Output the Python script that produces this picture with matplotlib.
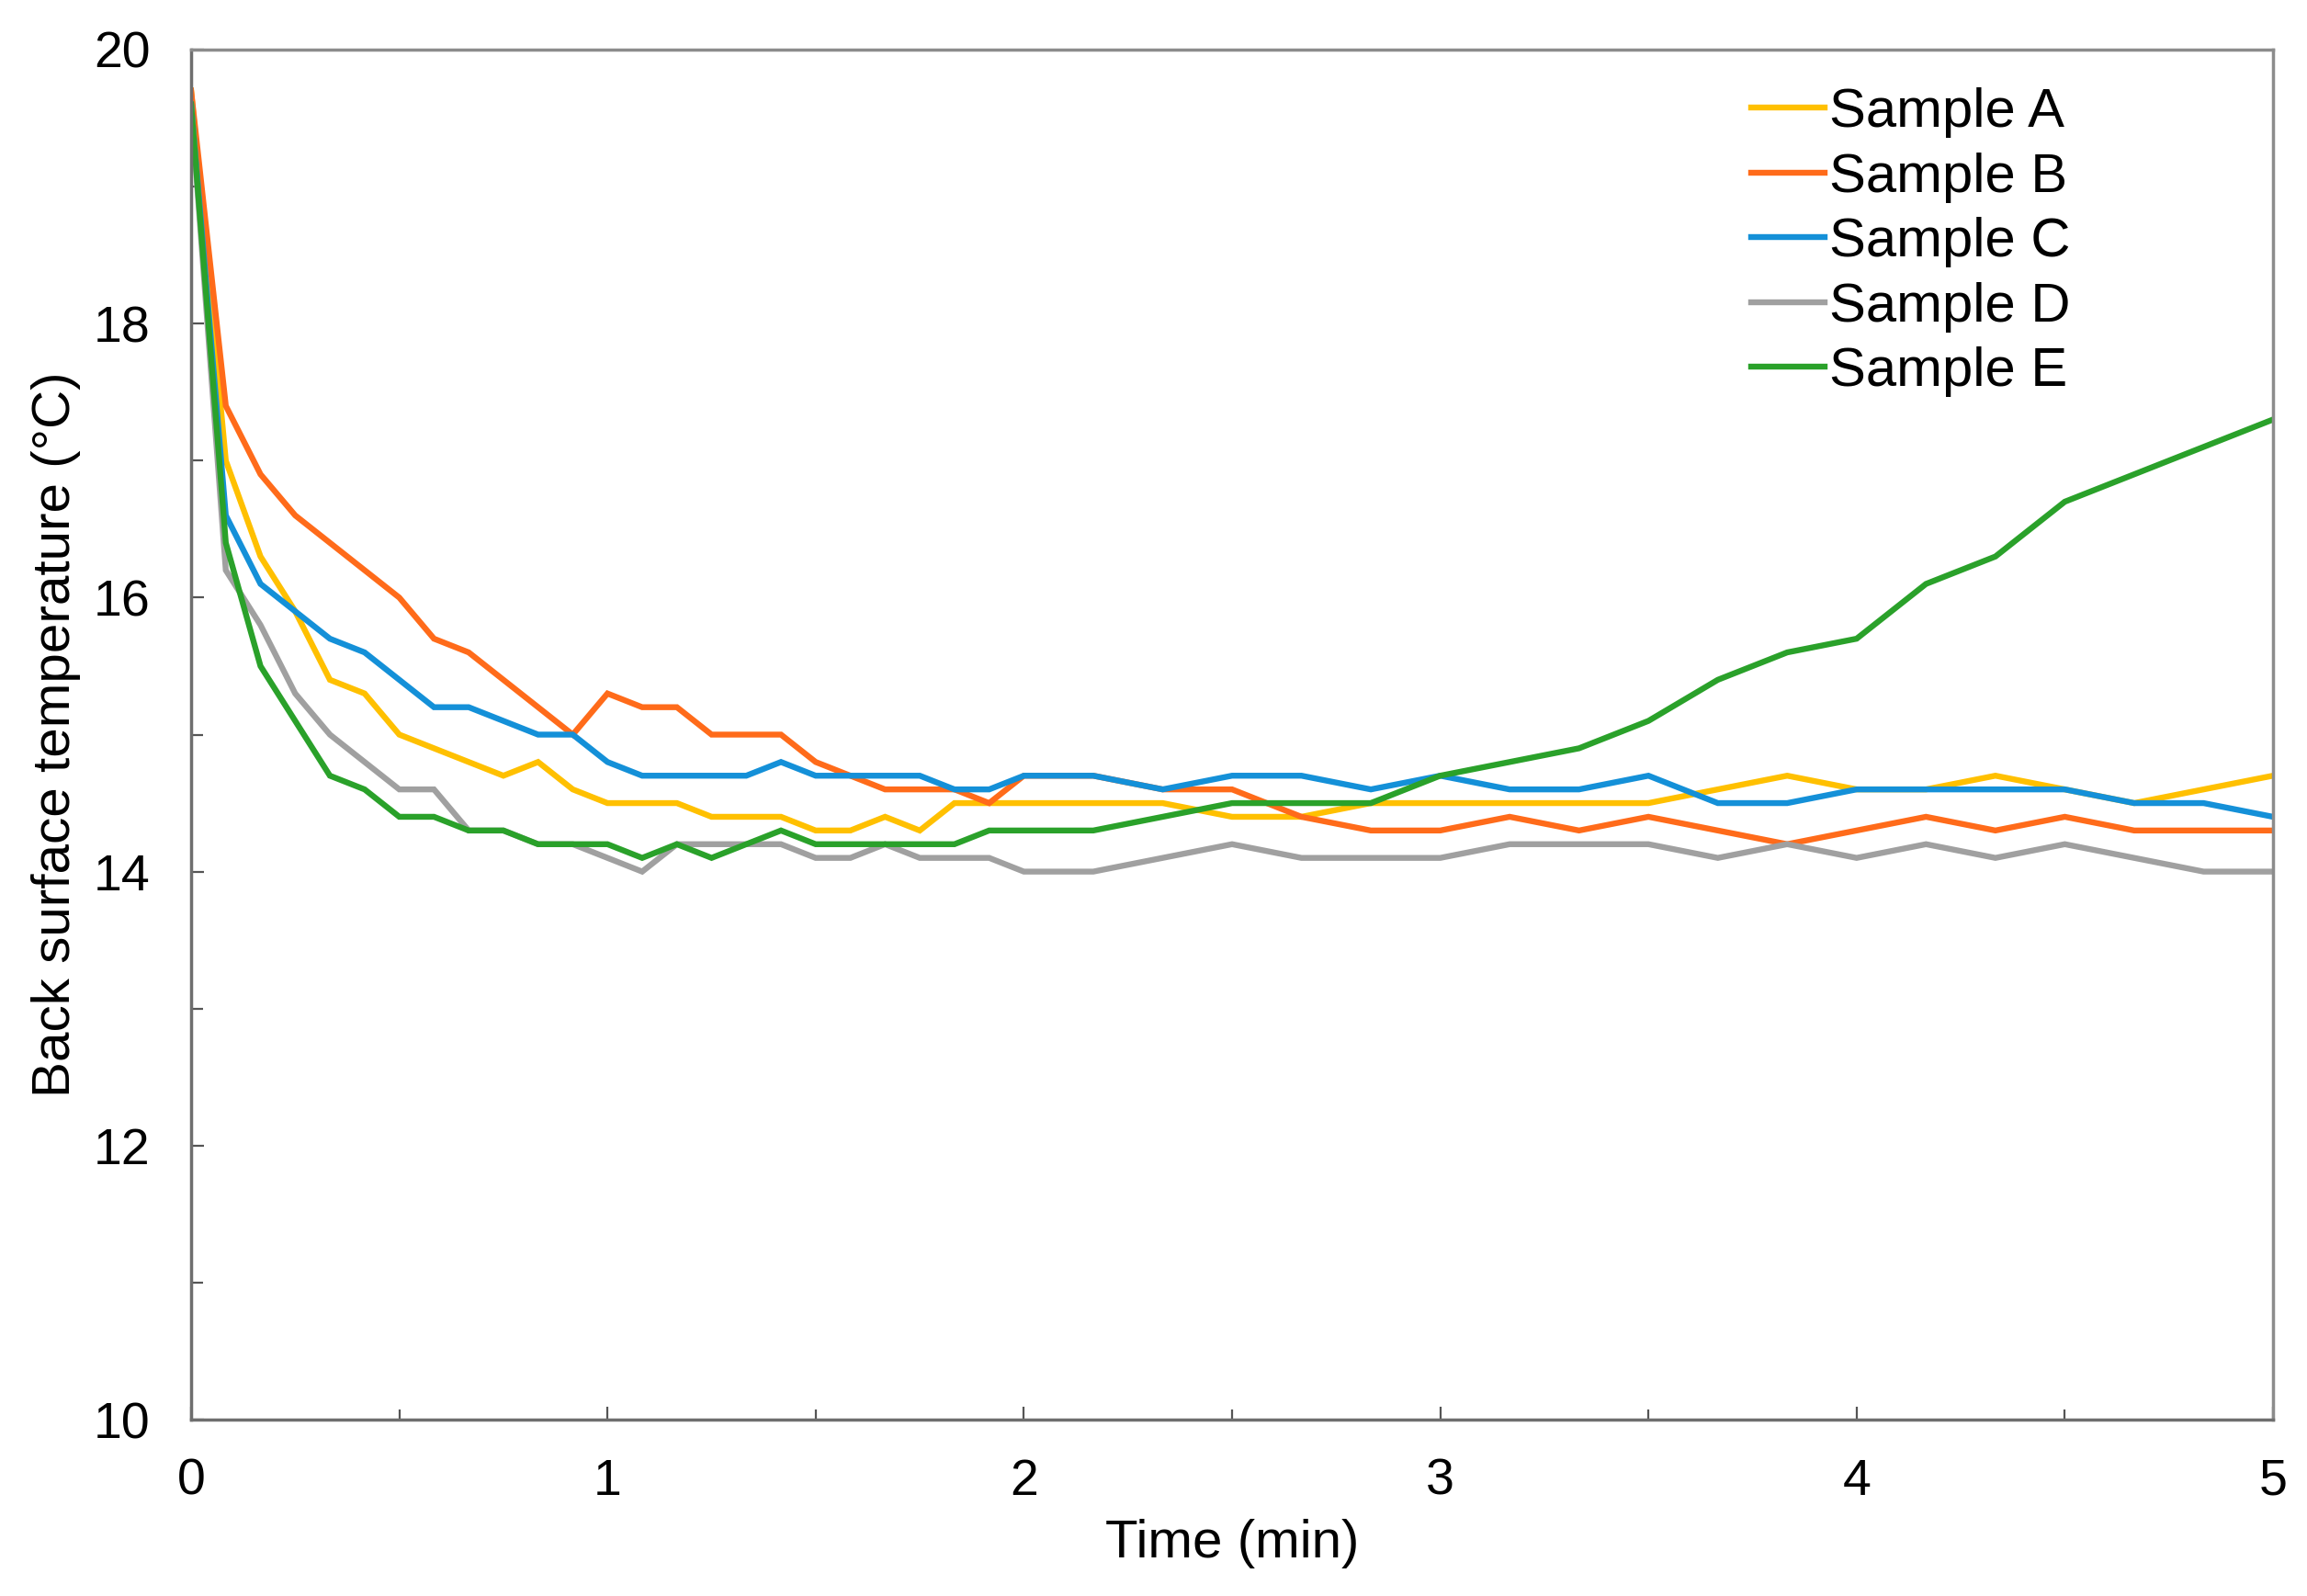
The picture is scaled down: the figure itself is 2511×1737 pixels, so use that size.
import matplotlib
matplotlib.use("Agg")
import matplotlib.pyplot as plt
import numpy as np

plt.rcParams['font.family'] = ['Liberation Sans', 'DejaVu Sans']

# time in seconds
time_s = [0, 5, 10, 15, 20, 25, 30, 35, 40, 45, 50, 55, 60, 65, 70, 75, 80, 85,
          90, 95, 100, 105, 110, 115, 120,
          130, 140, 150, 160, 170, 180, 190, 200, 210, 220, 230, 240,
          250, 260, 270, 280, 290, 300]

sample_a = [19.7, 17.0, 16.3, 15.9, 15.4, 15.3, 15.0, 14.9, 14.8, 14.7, 14.8, 14.6,
            14.5, 14.5, 14.5, 14.4, 14.4, 14.4, 14.3, 14.3, 14.4, 14.3, 14.5, 14.5, 14.5,
            14.5, 14.5, 14.4, 14.4, 14.5, 14.5, 14.5, 14.5, 14.5, 14.6, 14.7, 14.6,
            14.6, 14.7, 14.6, 14.5, 14.6, 14.7]
sample_b = [19.7, 17.4, 16.9, 16.6, 16.4, 16.2, 16.0, 15.7, 15.6, 15.4, 15.2, 15.0,
            15.3, 15.2, 15.2, 15.0, 15.0, 15.0, 14.8, 14.7, 14.6, 14.6, 14.6, 14.5, 14.7,
            14.7, 14.6, 14.6, 14.4, 14.3, 14.3, 14.4, 14.3, 14.4, 14.3, 14.2, 14.3,
            14.4, 14.3, 14.4, 14.3, 14.3, 14.3]
sample_c = [19.6, 16.6, 16.1, 15.9, 15.7, 15.6, 15.4, 15.2, 15.2, 15.1, 15.0, 15.0,
            14.8, 14.7, 14.7, 14.7, 14.7, 14.8, 14.7, 14.7, 14.7, 14.7, 14.6, 14.6, 14.7,
            14.7, 14.6, 14.7, 14.7, 14.6, 14.7, 14.6, 14.6, 14.7, 14.5, 14.5, 14.6,
            14.6, 14.6, 14.6, 14.5, 14.5, 14.4]
sample_d = [19.6, 16.2, 15.8, 15.3, 15.0, 14.8, 14.6, 14.6, 14.3, 14.3, 14.2, 14.2,
            14.1, 14.0, 14.2, 14.2, 14.2, 14.2, 14.1, 14.1, 14.2, 14.1, 14.1, 14.1, 14.0,
            14.0, 14.1, 14.2, 14.1, 14.1, 14.1, 14.2, 14.2, 14.2, 14.1, 14.2, 14.1,
            14.2, 14.1, 14.2, 14.1, 14.0, 14.0]
sample_e = [19.6, 16.4, 15.5, 15.1, 14.7, 14.6, 14.4, 14.4, 14.3, 14.3, 14.2, 14.2,
            14.2, 14.1, 14.2, 14.1, 14.2, 14.3, 14.2, 14.2, 14.2, 14.2, 14.2, 14.3, 14.3,
            14.3, 14.4, 14.5, 14.5, 14.5, 14.7, 14.8, 14.9, 15.1, 15.4, 15.6, 15.7,
            16.1, 16.3, 16.7, 16.9, 17.1, 17.3]

labels = ["Sample A", "Sample B", "Sample C", "Sample D", "Sample E"]
colors = ["#FFC000", "#FF6B1A", "#1490D8", "#A0A0A0", "#2AA12A"]

t_min = np.array(time_s) / 60.0
series = [sample_a, sample_b, sample_c, sample_d, sample_e]

W, H = 2511, 1737
fig = plt.figure(figsize=(W / 100, H / 100), dpi=100)
ax = fig.add_axes([208 / W, 1 - 1545 / H, (2474 - 208) / W, (1545 - 54) / H])

for y, lab, c in zip(series, labels, colors):
    ax.plot(t_min, y, color=c, lw=4.6, label=lab, solid_joinstyle='miter')

ax.set_xlim(0, 5)
ax.set_ylim(10, 20)
ax.set_xticks([0, 1, 2, 3, 4, 5])
ax.set_xticks([0.5, 1.5, 2.5, 3.5, 4.5], minor=True)
ax.set_yticks([10, 12, 14, 16, 18, 20])
ax.set_yticks([11, 13, 15, 17, 19], minor=True)

fs = 40
for name, s in ax.spines.items():
    s.set_color("#6e6e6e" if name in ("left", "bottom") else "#8c8c8c")
    s.set_linewidth(2.5)
ax.tick_params(axis='both', which='both', direction='in', color='#555555', width=1.6)
ax.tick_params(axis='x', which='major', length=10, pad=30, labelsize=fs)
ax.tick_params(axis='x', which='minor', length=8)
ax.tick_params(axis='y', which='major', length=10, pad=32, labelsize=fs)
ax.tick_params(axis='y', which='minor', length=9)

ax.set_xlabel("Time (min)", fontsize=42, labelpad=10)
ax.set_ylabel("Back surface temperature (°C)", fontsize=42, labelpad=10)

leg = ax.legend(loc='upper left', bbox_to_anchor=(1906 / W, 1 - 95 / H),
                bbox_transform=fig.transFigure, frameon=False, fontsize=43,
                handlelength=1.34, handletextpad=0.08, labelspacing=0.26,
                borderpad=0, borderaxespad=0)

fig.savefig("out.png", dpi=100)
